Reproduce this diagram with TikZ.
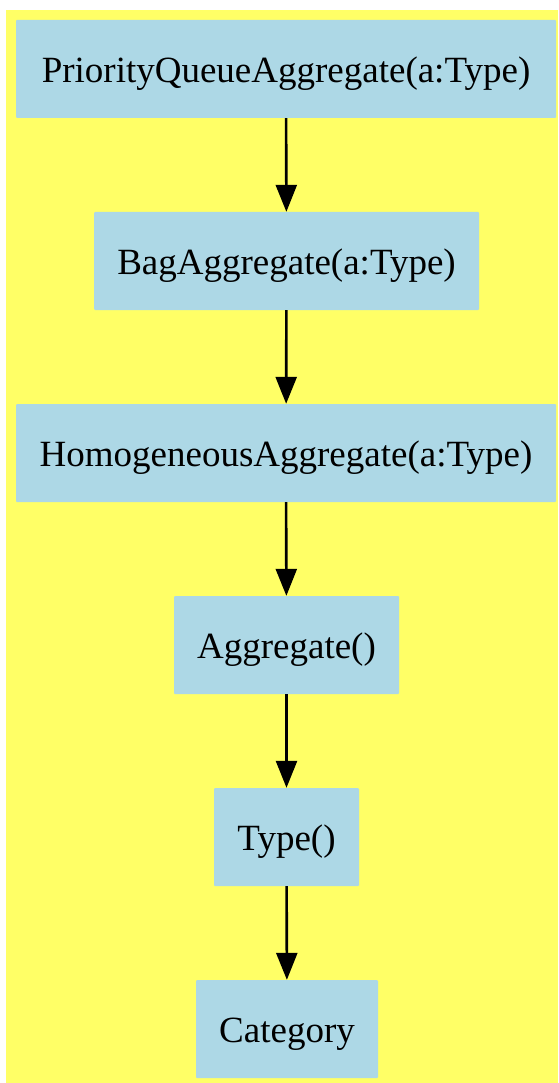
\documentclass[tikz,border=0pt]{standalone}
\usepackage{fontspec}
\setmainfont{Liberation Serif}
\usetikzlibrary{arrows.meta}
\definecolor{bgyellow}{HTML}{FFFF66}
\definecolor{boxblue}{HTML}{ADD8E6}
\begin{document}
\begin{tikzpicture}[x=1pt,y=-1pt,
  box/.style={fill=boxblue, draw=none, rounded corners=1pt, minimum height=98pt, inner sep=0pt, text height=30pt, text depth=3pt, font=\fontsize{37}{44}\selectfont},
  conn/.style={line width=2.6pt, -{Triangle[length=27pt,width=21pt]}}]
\useasboundingbox (0,0) rectangle (558,1083);
\fill[bgyellow] (6,10) rectangle (558,1083);
\node[box, minimum width=540pt] (pq) at (286,69) {PriorityQueueAggregate(a:Type)};
\node[box, minimum width=385pt] (bag) at (286.5,261) {BagAggregate(a:Type)};
\node[box, minimum width=540pt] (hom) at (286,453) {HomogeneousAggregate(a:Type)};
\node[box, minimum width=225pt] (agg) at (286.5,645) {Aggregate()};
\node[box, minimum width=145pt] (type) at (286.5,837) {Type()};
\node[box, minimum width=182pt] (cat) at (287,1029) {Category};
\draw[conn] (pq) -- (bag);
\draw[conn] (bag) -- (hom);
\draw[conn] (hom) -- (agg);
\draw[conn] (agg) -- (type);
\draw[conn] (type) -- (cat);
\end{tikzpicture}
\end{document}
